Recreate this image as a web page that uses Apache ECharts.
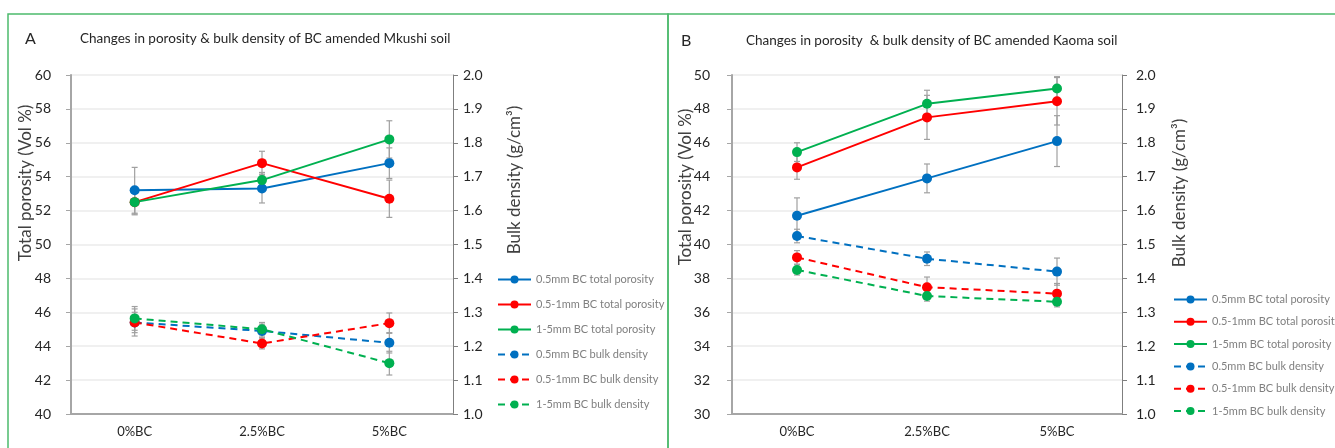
<!DOCTYPE html>
<html>
<head>
<meta charset="utf-8">
<script src="https://cdn.jsdelivr.net/npm/echarts@6/dist/echarts.min.js"></script>
<style>
html,body{margin:0;padding:0;background:#fff;}
#chart{width:1335px;height:448px;}
</style>
</head>
<body>
<div id="chart"></div>
<script>
// ---- data ----
const categories = ['0%BC', '2.5%BC', '5%BC'];
const seriesNames = [
  '0.5mm BC total porosity',
  '0.5-1mm BC total porosity',
  '1-5mm BC total porosity',
  '0.5mm BC bulk density',
  '0.5-1mm BC bulk density',
  '1-5mm BC bulk density'
];
// Panel A (Mkushi soil)
const porA_05  = [53.2, 53.3, 54.8];
const porA_051 = [52.5, 54.8, 52.7];
const porA_15  = [52.5, 53.8, 56.2];
const bdA_05   = [1.27, 1.245, 1.21];
const bdA_051  = [1.27, 1.208, 1.268];
const bdA_15   = [1.282, 1.25, 1.15];
const errPorA_05  = [1.35, 0.85, 0.9];
const errPorA_051 = [0.75, 0.7, 1.1];
const errPorA_15  = [0.7, 0.45, 1.1];
const errBdA_05   = [0.04, 0.02, 0.03];
const errBdA_051  = [0.03, 0.016, 0.03];
const errBdA_15   = [0.035, 0.02, 0.035];
// Panel B (Kaoma soil)
const porB_05  = [41.7, 43.9, 46.1];
const porB_051 = [44.55, 47.5, 48.45];
const porB_15  = [45.45, 48.3, 49.2];
const bdB_05   = [1.525, 1.458, 1.42];
const bdB_051  = [1.462, 1.374, 1.355];
const bdB_15   = [1.425, 1.348, 1.331];
const errPorB_05  = [1.05, 0.85, 1.5];
const errPorB_051 = [0.7, 1.3, 1.4];
const errPorB_15  = [0.55, 0.8, 0.7];
const errBdB_05   = [0.02, 0.02, 0.04];
const errBdB_051  = [0.02, 0.03, 0.03];
const errBdB_15   = [0.015, 0.015, 0.015];
// axis ticks
const leftA = {min: 40, max: 60, interval: 2};
const leftB = {min: 30, max: 50, interval: 2};
const rightAxis = {min: 1.0, max: 2.0, interval: 0.1};

const colors = ['#0070C0', '#FF0000', '#00B050'];
const FONT = 'Lato';

function lineSeries(name, data, color, dashed, xi, yi) {
  return {
    type: 'line', name: name, data: data,
    xAxisIndex: xi, yAxisIndex: yi,
    symbol: 'circle', symbolSize: 10,
    itemStyle: {color: color},
    lineStyle: {color: color, width: 2, type: dashed ? [7, 5] : 'solid'},
    z: 3
  };
}
function errSeries(vals, errs, xi, yi) {
  return {
    type: 'custom', xAxisIndex: xi, yAxisIndex: yi, z: 2,
    silent: true,
    encode: {x: 0, y: 1},
    data: vals.map((v, i) => [i, v, errs[i]]),
    renderItem: function (params, api) {
      const x = api.value(0), y = api.value(1), e = api.value(2);
      const t = api.coord([x, y + e]);
      const b = api.coord([x, y - e]);
      const w = 3;
      const st = {stroke: '#a0a0a0', lineWidth: 1.2};
      return {type: 'group', children: [
        {type: 'line', shape: {x1: t[0], y1: t[1], x2: b[0], y2: b[1]}, style: st},
        {type: 'line', shape: {x1: t[0] - w, y1: t[1], x2: t[0] + w, y2: t[1]}, style: st},
        {type: 'line', shape: {x1: b[0] - w, y1: b[1], x2: b[0] + w, y2: b[1]}, style: st}
      ]};
    }
  };
}

function xAxisCfg(gi) {
  return {
    type: 'category', gridIndex: gi, data: categories, boundaryGap: true,
    axisLine: {lineStyle: {color: '#a6a6a6', width: 2}},
    axisTick: {show: false},
    axisLabel: {color: '#262626', fontFamily: FONT, fontSize: 13, margin: 11}
  };
}
function leftAxisCfg(gi, cfg, margin) {
  return {
    type: 'value', gridIndex: gi, position: 'left',
    min: cfg.min, max: cfg.max, interval: cfg.interval,
    axisLine: {show: true, lineStyle: {color: '#a6a6a6', width: 2}},
    axisTick: {show: true, length: 5, lineStyle: {color: '#a6a6a6'}},
    axisLabel: {color: '#262626', fontFamily: FONT, fontSize: 14, margin: margin},
    splitLine: {show: true, lineStyle: {color: '#ebebeb', width: 1.5}}
  };
}
function rightAxisCfg(gi, margin) {
  return {
    type: 'value', gridIndex: gi, position: 'right',
    min: rightAxis.min, max: rightAxis.max, interval: rightAxis.interval,
    axisLine: {show: true, lineStyle: {color: '#7f7f7f', width: 1}},
    axisTick: {show: true, length: 5, lineStyle: {color: '#7f7f7f'}},
    axisLabel: {color: '#262626', fontFamily: FONT, fontSize: 14, margin: margin,
      formatter: v => v.toFixed(1)},
    splitLine: {show: false}
  };
}

const series = [];
// error bars (behind)
[[porA_05, errPorA_05, 0], [porA_051, errPorA_051, 0], [porA_15, errPorA_15, 0],
 [bdA_05, errBdA_05, 1], [bdA_051, errBdA_051, 1], [bdA_15, errBdA_15, 1]].forEach(a =>
  series.push(errSeries(a[0], a[1], 0, a[2])));
[[porB_05, errPorB_05, 2], [porB_051, errPorB_051, 2], [porB_15, errPorB_15, 2],
 [bdB_05, errBdB_05, 3], [bdB_051, errBdB_051, 3], [bdB_15, errBdB_15, 3]].forEach(a =>
  series.push(errSeries(a[0], a[1], 1, a[2])));
// lines panel A
[porA_05, porA_051, porA_15].forEach((d, i) => series.push(lineSeries(seriesNames[i], d, colors[i], false, 0, 0)));
[bdA_05, bdA_051, bdA_15].forEach((d, i) => series.push(lineSeries(seriesNames[i + 3], d, colors[i], true, 0, 1)));
// lines panel B
[porB_05, porB_051, porB_15].forEach((d, i) => series.push(lineSeries(seriesNames[i], d, colors[i], false, 1, 2)));
[bdB_05, bdB_051, bdB_15].forEach((d, i) => series.push(lineSeries(seriesNames[i + 3], d, colors[i], true, 1, 3)));

function axisTitle(text, x, y) {
  return {type: 'text', x: x, y: y, rotation: Math.PI / 2,
    style: {text: text, fill: '#404040', font: '17px ' + FONT, align: 'center', verticalAlign: 'middle'}};
}

const legendCommon = {
  orient: 'vertical', data: seriesNames,
  itemWidth: 33, itemHeight: 10,
  textStyle: {color: '#7f7f7f', fontFamily: FONT, fontSize: 11},
  selectedMode: false
};

const option = {
  backgroundColor: '#fff',
  animation: false,
  title: [
    {text: 'A', left: 20, top: 26, textStyle: {fontFamily: FONT, fontSize: 16, fontWeight: 'normal', color: '#262626'}},
    {text: 'Changes in porosity & bulk density of BC amended Mkushi soil', left: 75, top: 27,
      textStyle: {fontFamily: FONT, fontSize: 13.5, fontWeight: 'normal', color: '#262626'}},
    {text: 'B', left: 676, top: 28, textStyle: {fontFamily: FONT, fontSize: 16, fontWeight: 'normal', color: '#262626'}},
    {text: 'Changes in porosity  & bulk density of BC amended Kaoma soil', left: 741, top: 29,
      textStyle: {fontFamily: FONT, fontSize: 13.5, fontWeight: 'normal', color: '#262626'}}
  ],
  grid: [
    {left: 71, top: 75, width: 382, height: 339},
    {left: 732, top: 75, width: 390, height: 339}
  ],
  xAxis: [xAxisCfg(0), xAxisCfg(1)],
  yAxis: [leftAxisCfg(0, leftA, 20), rightAxisCfg(0, 10), leftAxisCfg(1, leftB, 22), rightAxisCfg(1, 14)],
  legend: [
    Object.assign({}, legendCommon, {left: 492, top: 269, itemGap: 14}),
    Object.assign({}, legendCommon, {left: 1168, top: 289, itemGap: 11.3})
  ],
  graphic: [
    {type: 'rect', shape: {x: 8, y: 14, width: 660, height: 450}, style: {fill: 'none', stroke: '#4cbb6c', lineWidth: 1.5}, z: -1},
    {type: 'rect', shape: {x: 668, y: 14, width: 680, height: 450}, style: {fill: 'none', stroke: '#4cbb6c', lineWidth: 1.5}, z: -1},
    axisTitle('Total porosity (Vol %)', 26, 183),
    axisTitle('Bulk density (g/cm³)', 515, 180),
    axisTitle('Total porosity (Vol %)', 686, 187),
    axisTitle('Bulk density (g/cm³)', 1180, 193)
  ],
  series: series
};

const chart = echarts.init(document.getElementById('chart'), null, {renderer: 'canvas'});
chart.setOption(option);
</script>
</body>
</html>
